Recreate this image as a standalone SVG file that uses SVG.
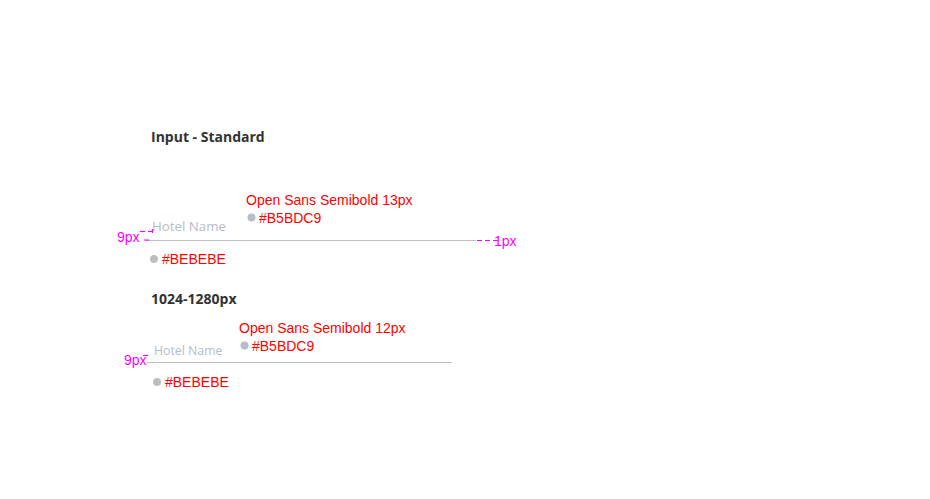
<svg xmlns="http://www.w3.org/2000/svg" width="930" height="499" viewBox="0 0 930 499">
<style>
.title{font-family:"Open Sans",sans-serif;font-weight:700;font-size:14px;fill:#333333}
.ann{font-family:"Liberation Sans",Arial,sans-serif;font-size:14px;fill:#ff0000}
.mag{font-family:"Liberation Sans",Arial,sans-serif;font-size:14px;fill:#ff00ff}
.ph{font-family:"Open Sans",sans-serif;font-weight:500;fill:#B5BDC9}
.dim{stroke:#ff00ff;stroke-width:1;fill:none;stroke-dasharray:5 3}
</style>
<rect width="930" height="499" fill="#ffffff"/>
<g id="standard">
<text class="title" x="151" y="142">Input - Standard</text>
<text class="ph" x="152" y="231" font-size="13.3">Hotel Name</text>
<line x1="145" y1="240.5" x2="476" y2="240.5" stroke="#BEBEBE" stroke-width="1"/>
<text class="ann" x="246" y="205">Open Sans Semibold 13px</text>
<circle cx="251.5" cy="217.5" r="4" fill="#B5BDC9"/>
<text class="ann" x="259" y="223">#B5BDC9</text>
<circle cx="154" cy="259" r="4" fill="#BEBEBE"/>
<text class="ann" x="162" y="264">#BEBEBE</text>
<text class="mag" x="117" y="242">9px</text>
<path class="dim" d="M140 231.5 H153 M152.5 229 V233 M144 240 H150"/>
<path class="dim" d="M477 240.5 H500"/>
<text class="mag" x="494" y="246">1px</text>
</g>
<g id="small">
<text class="title" x="151" y="304">1024-1280px</text>
<text class="ph" x="154" y="355" font-size="12.3">Hotel Name</text>
<line x1="147" y1="362.5" x2="452" y2="362.5" stroke="#BEBEBE" stroke-width="1"/>
<text class="ann" x="239" y="333">Open Sans Semibold 12px</text>
<circle cx="244.5" cy="345.5" r="4" fill="#B5BDC9"/>
<text class="ann" x="252" y="351">#B5BDC9</text>
<circle cx="157" cy="382" r="4" fill="#BEBEBE"/>
<text class="ann" x="165" y="387">#BEBEBE</text>
<text class="mag" x="124" y="365">9px</text>
<path class="dim" d="M143 355.5 H150"/>
</g>
</svg>
